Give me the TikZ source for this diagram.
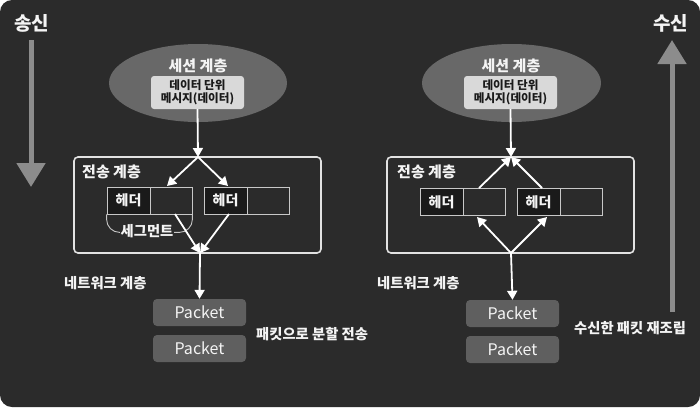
\documentclass[tikz,border=0pt]{standalone}
\usepackage{fontspec}
\setmainfont{Noto Sans CJK KR}
\usetikzlibrary{arrows.meta,calc}
\definecolor{bg}{HTML}{2B2B2B}
\definecolor{ellfill}{HTML}{686868}
\definecolor{innerfill}{HTML}{D9D9D9}
\definecolor{pktfill}{HTML}{5F5F5F}
\definecolor{boxline}{HTML}{E2E2E2}
\definecolor{segline}{HTML}{C8C8C8}
\definecolor{hdrfill}{HTML}{1A1A1A}
\definecolor{bigarrow}{HTML}{8C8C8C}
\definecolor{txt}{HTML}{F4F4F4}
\tikzset{
  innerbox/.style={fill=innerfill, rounded corners=3pt, minimum width=93pt, minimum height=33pt, inner sep=0pt, align=center, font=\bfseries\fontsize{11.6}{14}\selectfont, text=hdrfill},
  tbox/.style={draw=boxline, line width=1.6pt, rounded corners=4pt},
  hdr/.style={draw=segline, line width=0.8pt, fill=hdrfill, minimum width=43pt, minimum height=27pt, inner sep=0pt, text=txt, font=\bfseries\fontsize{14}{15}\selectfont},
  dat/.style={draw=segline, line width=0.8pt, fill=bg, minimum width=42pt, minimum height=27pt, inner sep=0pt},
  pkt/.style={fill=pktfill, rounded corners=4pt, minimum width=93pt, minimum height=27pt, inner sep=0pt, text=txt, font=\fontsize{16}{17}\selectfont},
  lbl/.style={text=txt, font=\bfseries\fontsize{14.3}{16}\selectfont, inner sep=0pt},
  title/.style={text=txt, font=\bfseries\fontsize{19}{21}\selectfont, inner sep=0pt},
  arr/.style={draw=white, line width=1.8pt, -{Triangle[length=9pt,width=10pt]}},
  bigarr/.style={draw=bigarrow, line width=5pt, -{Triangle[length=24pt,width=28pt]}},
}
\begin{document}
\begin{tikzpicture}[x=1pt,y=-1pt]
\useasboundingbox (0,0) rectangle (700,407);
\fill[bg, rounded corners=12pt] (0,0) rectangle (700,407);

% ---------- left (send) ----------
\node[title, anchor=west] (sendT) at (14,23) {송신};
\coordinate (sendA) at (31,40);
\coordinate (sendB) at (31,187);
\draw[bigarr] (sendA) -- (sendB);

\fill[ellfill] (198,83) ellipse [x radius=89, y radius=39];
\node[lbl, font=\bfseries\fontsize{15}{16}\selectfont] (sesL) at (198,66) {세션 계층};
\node[innerbox] (datL) at (197.5,92.5) {데이터 단위\\[-1pt]메시지(데이터)};

\draw[tbox] (74,157) rectangle (321,253);
\node[lbl, anchor=west, font=\bfseries\fontsize{15}{16}\selectfont] (trL) at (82,172) {전송 계층};
\coordinate (topL) at (198,157);
\coordinate (botL) at (200,253);

\node[hdr] (h1) at (128.5,200.5) {헤더};
\node[dat] (d1) at (171,200.5) {};
\node[hdr] (h2) at (225.5,200.5) {헤더};
\node[dat] (d2) at (268,200.5) {};

\draw[segline, line width=0.9pt, rounded corners=13pt] (h1.south west) -- ++(0,18) -- ($(d1.south east)+(0,18)$) -- (d1.south east);
\node[lbl, fill=bg, inner sep=1pt] (segL) at (147,231) {세그먼트};

\draw[arr] (datL.south) -- (topL);
\draw[arr] (topL) -- (167,186);
\draw[arr] (topL) -- (228,186);
\draw[arr] (175,214) -- (botL);
\draw[arr] (229,214) -- (botL);

\node[lbl, anchor=west] (netL) at (64,283) {네트워크 계층};
\node[pkt] (p1) at (199.5,312.5) {Packet};
\node[pkt] (p2) at (199.5,348.5) {Packet};
\draw[arr] (botL) -- (p1.north);
\node[lbl, anchor=west] (splitL) at (256,334) {패킷으로 분할 전송};

% ---------- right (receive) ----------
\node[title, anchor=west] (recvT) at (653,23) {수신};
\coordinate (recvA) at (672,312);
\coordinate (recvB) at (672,40);
\draw[bigarr] (recvA) -- (recvB);

\fill[ellfill] (511.5,83) ellipse [x radius=89.5, y radius=39];
\node[lbl, font=\bfseries\fontsize{15}{16}\selectfont] (sesR) at (511,66) {세션 계층};
\node[innerbox] (datR) at (510.5,92.5) {데이터 단위\\[-1pt]메시지(데이터)};

\draw[tbox] (387,157) rectangle (634,253);
\node[lbl, anchor=west, font=\bfseries\fontsize{15}{16}\selectfont] (trR) at (397,172) {전송 계층};
\coordinate (topR) at (511,157);
\coordinate (botR) at (511,253);

\node[hdr] (h3) at (441.5,202) {헤더};
\node[dat] (d3) at (484,202) {};
\node[hdr] (h4) at (538.5,202) {헤더};
\node[dat] (d4) at (581,202) {};

\draw[arr] (datR.south) -- (topR);
\draw[arr] (479,188) -- (topR);
\draw[arr] (542,188) -- (topR);
\draw[arr] (botR) -- (477,217);
\draw[arr] (botR) -- (547,217);

\node[lbl, anchor=west] (netR) at (377,283) {네트워크 계층};
\node[pkt] (p3) at (512.5,313.5) {Packet};
\node[pkt] (p4) at (512.5,349.5) {Packet};
\draw[arr] (botR) -- (p3.north);
\node[lbl, anchor=west] (asmR) at (574,328) {수신한 패킷 재조립};
\end{tikzpicture}
\end{document}
